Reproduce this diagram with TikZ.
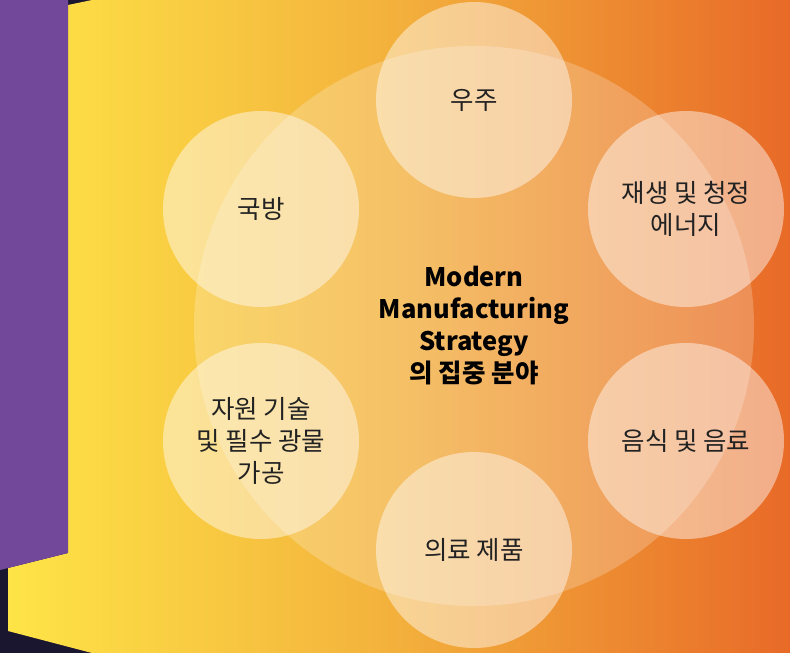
\documentclass[tikz,border=0pt]{standalone}
\usepackage{fontspec}
\setmainfont{Noto Sans CJK KR}
\usetikzlibrary{positioning}
\definecolor{navy}{HTML}{1A1630}
\definecolor{grape}{HTML}{71489A}
\definecolor{ylw}{HTML}{FEE447}
\definecolor{amber}{HTML}{F3B03C}
\definecolor{org}{HTML}{E86A28}
\definecolor{ink}{HTML}{222222}
\pgfdeclarehorizontalshading{panel}{100bp}{color(0bp)=(ylw); color(25bp)=(ylw); color(50bp)=(amber); color(75bp)=(org); color(100bp)=(org)}
\tikzstyle{petal}=[circle,fill=white,fill opacity=0.45,text opacity=1,minimum size=196pt,inner sep=0pt,text=ink,align=center,font=\fontsize{25.5}{32}\selectfont]
\tikzstyle{hubc}=[circle,fill=white,fill opacity=0.22,text opacity=1,minimum size=560pt,inner sep=0pt,text=black,align=center,font=\bfseries\fontsize{25.5}{32}\selectfont]

\begin{document}
\begin{tikzpicture}[x=1pt,y=-1pt]
\useasboundingbox (0,0) rectangle (790,653);
\fill[navy] (0,0) rectangle (790,653);
\shade[shading=panel] (68,5)--(92,0)--(790,0)--(790,653)--(92,653)--(8,631)--(8,568)--(68,553)--cycle;
\fill[grape] (0,0)--(68,0)--(68,553)--(0,570)--cycle;

\node (hub) [hubc] at (474,326) {Modern\\Manufacturing\\Strategy\\의 집중 분야};

\node (space) [petal] at (474,100) {우주};
\node (energy) [petal] at (686,209) {재생 및 청정\\에너지};
\node (food) [petal] at (686,441) {음식 및 음료};
\node (medical) [petal] at (474,550) {의료 제품};
\node (mineral) [petal] at (261,441) {자원 기술\\및 필수 광물\\가공};
\node (defense) [petal] at (261,209) {국방};

\end{tikzpicture}
\end{document}
